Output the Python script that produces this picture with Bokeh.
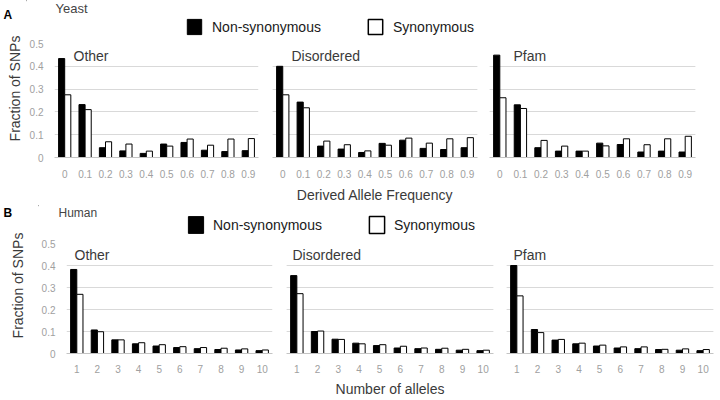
from math import pi
from bokeh.plotting import figure
from bokeh.layouts import row, column
from bokeh.models import (FactorRange, Range1d, FixedTicker, Grid, Label, Legend,
                          LegendItem, ColumnDataSource, NumeralTickFormatter)
from bokeh.transform import dodge
from bokeh.embed import file_html
from bokeh.resources import INLINE

FONT = "Liberation Sans"

# ---------------- data ----------------
y_ticks = [0, 0.1, 0.2, 0.3, 0.4, 0.5]

yeast_freq = ["0", "0.1", "0.2", "0.3", "0.4", "0.5", "0.6", "0.7", "0.8", "0.9"]
yeast_other_ns = [0.434, 0.232, 0.043, 0.029, 0.018, 0.059, 0.066, 0.032, 0.026, 0.030]
yeast_other_s = [0.275, 0.210, 0.069, 0.059, 0.028, 0.050, 0.081, 0.054, 0.081, 0.083]
yeast_dis_ns = [0.400, 0.243, 0.050, 0.037, 0.022, 0.062, 0.076, 0.040, 0.035, 0.043]
yeast_dis_s = [0.275, 0.218, 0.072, 0.056, 0.029, 0.054, 0.085, 0.063, 0.082, 0.087]
yeast_pfam_ns = [0.449, 0.231, 0.043, 0.028, 0.028, 0.063, 0.057, 0.024, 0.028, 0.024]
yeast_pfam_s = [0.262, 0.215, 0.075, 0.050, 0.028, 0.051, 0.082, 0.056, 0.082, 0.093]

human_alleles = ["1", "2", "3", "4", "5", "6", "7", "8", "9", "10"]
human_other_ns = [0.382, 0.107, 0.062, 0.044, 0.034, 0.027, 0.022, 0.018, 0.016, 0.013]
human_other_s = [0.269, 0.099, 0.062, 0.049, 0.040, 0.031, 0.027, 0.024, 0.021, 0.016]
human_dis_ns = [0.354, 0.100, 0.065, 0.047, 0.036, 0.025, 0.022, 0.019, 0.015, 0.013]
human_dis_s = [0.272, 0.102, 0.064, 0.044, 0.040, 0.033, 0.025, 0.024, 0.019, 0.015]
human_pfam_ns = [0.400, 0.109, 0.061, 0.044, 0.034, 0.025, 0.022, 0.018, 0.015, 0.013]
human_pfam_s = [0.262, 0.095, 0.064, 0.047, 0.038, 0.030, 0.030, 0.019, 0.021, 0.018]

series_labels = ["Non-synonymous", "Synonymous"]
region_names = ["Other", "Disordered", "Pfam"]

TICK_COLOR = "#a0a0a0"
TEXT_COLOR = "#3a3a3a"
GRID_COLOR = "#d9d9d9"


def no_ticks(ax):
    ax.major_tick_line_color = None
    ax.minor_tick_line_color = None
    ax.major_tick_out = 0
    ax.major_tick_in = 0
    ax.minor_tick_out = 0
    ax.minor_tick_in = 0


def panel(factors, ns, s, name, width, height, b_left, b_right, b_top, b_bottom,
          name_dx, name_dy, show_y, tick_standoff, xlabel=None, label_standoff=4):
    p = figure(x_range=FactorRange(factors=factors, range_padding=0),
               y_range=Range1d(0, 0.5), width=width, height=height,
               min_border_left=b_left, min_border_right=b_right,
               min_border_top=b_top, min_border_bottom=b_bottom,
               toolbar_location=None, output_backend="svg",
               y_axis_location="left" if show_y else None)
    p.outline_line_color = None
    p.xgrid.grid_line_color = None
    xa = p.xaxis[0]
    no_ticks(xa)
    xa.axis_line_color = "#c4c4c4"
    xa.major_label_text_font_size = "10px"
    xa.major_label_text_font = FONT
    xa.major_label_text_color = TICK_COLOR
    xa.major_label_standoff = tick_standoff
    if xlabel:
        xa.axis_label = xlabel
        xa.axis_label_text_font = FONT
        xa.axis_label_text_font_size = "14px"
        xa.axis_label_text_font_style = "normal"
        xa.axis_label_text_color = TEXT_COLOR
        xa.axis_label_standoff = label_standoff
    ticker = FixedTicker(ticks=y_ticks)
    if show_y:
        ya = p.yaxis[0]
        no_ticks(ya)
        ya.ticker = ticker
        ya.formatter = NumeralTickFormatter(format="0.[0]")
        ya.axis_line_color = None
        ya.major_label_text_font_size = "10px"
        ya.major_label_text_font = FONT
        ya.major_label_text_color = TICK_COLOR
        ya.major_label_standoff = 11
        p.ygrid.ticker = ticker
        p.ygrid.grid_line_color = GRID_COLOR
    else:
        p.add_layout(Grid(dimension=1, ticker=ticker, grid_line_color=GRID_COLOR))

    src = ColumnDataSource(dict(x=factors, ns=ns, s=s))
    p.vbar(x=dodge("x", -0.15, range=p.x_range), top="ns", width=0.3, source=src,
           fill_color="black", line_color="black", line_width=1)
    p.vbar(x=dodge("x", 0.15, range=p.x_range), top="s", width=0.3, source=src,
           fill_color="white", line_color="black", line_width=1)
    p.add_layout(Label(x=0, y=0.5, x_offset=name_dx, y_offset=-name_dy, text=name,
                       text_baseline="middle", text_align="left",
                       text_font=FONT, text_font_size="14px", text_color=TEXT_COLOR))
    return p


def strip(width, height, letter, letter_x, letter_top, label_x, label_y):
    s = figure(width=width, height=height, x_range=Range1d(0, width), y_range=Range1d(height, 0),
               x_axis_type=None, y_axis_type=None, min_border=0,
               toolbar_location=None, output_backend="svg")
    s.outline_line_color = None
    s.add_layout(Label(x=letter_x, y=letter_top, text=letter, text_baseline="top",
                       text_align="left", text_font=FONT, text_font_size="12px",
                       text_font_style="bold", text_color="black"))
    s.add_layout(Label(x=label_x, y=label_y, text="Fraction of SNPs", angle=pi / 2,
                       text_align="center", text_baseline="middle",
                       text_font=FONT, text_font_size="14px", text_color=TEXT_COLOR))
    return s


def header(width, height, title, title_x, title_top, title_size, leg_x, gw, gh, standoff):
    h = figure(width=width, height=height, x_range=Range1d(0, width),
               y_range=Range1d(height, 0), x_axis_type=None, y_axis_type=None, min_border=0,
               toolbar_location=None, output_backend="svg")
    h.outline_line_color = None
    h.add_layout(Label(x=title_x, y=title_top, text=title, text_baseline="top",
                       text_align="left", text_font=FONT, text_font_size=title_size,
                       text_color="#444444"))
    # legend proxies, placed outside the visible range
    r1 = h.vbar(x=[-100], top=[0], width=1, fill_color="black", line_color="black",
                line_width=1)
    r2 = h.vbar(x=[-100], top=[0], width=1, fill_color="white", line_color="black",
                line_width=1.5)
    leg = Legend(items=[LegendItem(label=series_labels[0], renderers=[r1]),
                        LegendItem(label=series_labels[1], renderers=[r2])],
                 orientation="horizontal", location=(leg_x, 0),
                 glyph_width=gw, glyph_height=gh, label_height=gh, label_width=140,
                 label_standoff=standoff, spacing=14, padding=0, margin=0,
                 border_line_color=None, background_fill_alpha=0,
                 label_text_font=FONT, label_text_font_size="14px",
                 label_text_color="#1a1a1a")
    h.add_layout(leg)
    return h


# ---------------- section A (Yeast) ----------------
hA = header(692, 36, "Yeast", 29, 0, "13px", 159, 18, 19, 9)
a1 = panel(yeast_freq, yeast_other_ns, yeast_other_s, region_names[0],
           239, 169, 27, 7, 7, 48, 19, 12, True, 12)
a2 = panel(yeast_freq, yeast_dis_ns, yeast_dis_s, region_names[1],
           218, 169, 7, 6, 7, 48, 19, 12, False, 12, "Derived Allele Frequency", 6)
a3 = panel(yeast_freq, yeast_pfam_ns, yeast_pfam_s, region_names[2],
           235, 169, 6, 23, 7, 48, 24, 12, False, 12)
sA = strip(26, 205, "A", 3, 7, 14, 88)
secA = row(sA, column(hA, row(a1, a2, a3)))

# ---------------- section B (Human) ----------------
hB = header(680, 30, "Human", 20, 0, "12px", 148, 19, 21, 8)
b1 = panel(human_alleles, human_other_ns, human_other_s, region_names[0],
           241, 165, 27, 7, 8, 47, 8, 11, True, 11)
b2 = panel(human_alleles, human_dis_ns, human_dis_s, region_names[1],
           220, 165, 7, 6, 8, 47, 6, 11, False, 11, "Number of alleles", 5)
b3 = panel(human_alleles, human_pfam_ns, human_pfam_s, region_names[2],
           219, 165, 7, 5, 8, 47, 7, 11, False, 11)
sB = strip(38, 195, "B", 3, 0, 17.5, 80)
secB = row(sB, column(hB, row(b1, b2, b3)))

layout = column(secA, secB)

open("out.html", "w").write(file_html(layout, INLINE))
